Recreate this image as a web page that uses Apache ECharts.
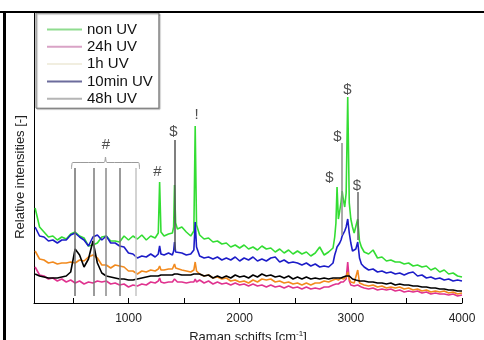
<!DOCTYPE html>
<html>
<head>
<meta charset="utf-8">
<script src="https://cdn.jsdelivr.net/npm/echarts@6/dist/echarts.min.js"></script>
<style>
  html, body { margin: 0; padding: 0; background: #fff; }
  #main { position: absolute; left: 0; top: 0; width: 484px; height: 340px; }
  .frame-top { position: absolute; left: 0; top: 11px; width: 484px; height: 2px; background: #000; }
  .frame-left { position: absolute; left: 3px; top: 11px; width: 3px; height: 329px; background: #000; }
</style>
</head>
<body>
<div id="main"></div>
<div class="frame-top"></div>
<div class="frame-left"></div>
<script>
// Raman shift (cm-1), shared by all spectra
const wavenumber = [
  160, 200, 240, 280, 320, 360, 400, 440, 480, 520, 560, 600, 640, 680, 720, 760, 800, 840, 880, 920, 960, 1000, 1040, 1080, 1120, 1160, 1200, 1240,
  1268, 1280, 1292, 1320, 1360, 1395, 1406, 1414, 1424, 1440, 1480, 1520, 1560, 1588, 1600, 1612,
  1640, 1680, 1720, 1760, 1800, 1840, 1880, 1920, 1960, 2000, 2040, 2080, 2120, 2160, 2200, 2240, 2280, 2320, 2360, 2400, 2440, 2480, 2520, 2560, 2600, 2640, 2680, 2720, 2760, 2800, 2840,
  2855, 2866, 2876, 2888, 2900, 2912, 2922, 2932, 2945, 2958, 2972, 2986, 3000, 3015, 3030, 3045, 3062, 3078, 3095,
  3120, 3160, 3200, 3240, 3280, 3320, 3360, 3400, 3440, 3480, 3520, 3560, 3600, 3640, 3680, 3720, 3760, 3800, 3840, 3880, 3920, 3960, 4000
]

const nonUV = [
  95, 76, 71, 66, 67, 63, 66, 64, 69, 71, 67, 65, 57, 58, 60, 66, 67, 62, 62, 61, 67, 63, 67, 64, 68, 63, 67, 65,
  70, 121, 71, 67, 69, 70, 76, 118, 80, 74, 76, 71, 67, 72, 177, 78,
  68, 64, 65, 61, 62, 59, 60, 56, 58, 55, 58, 54, 56, 53, 57, 54, 55, 51, 54, 50, 53, 49, 52, 49, 51, 47, 50, 56, 48, 51, 55,
  66, 80, 116, 84, 92, 101, 112, 104, 96, 110, 206, 100, 84, 76, 70, 72, 84, 62, 56,
  51, 49, 53, 45, 46, 42, 43, 41, 41, 39, 40, 37, 38, 36, 37, 33, 35, 31, 33, 29, 30, 27, 26
]
const uv24h = [
  36, 28, 27, 24, 25, 22, 24, 21, 23, 20, 22, 19, 21, 20, 22, 21, 22, 19, 20, 18, 19, 16, 18, 17, 19, 18, 21, 20,
  22, 25, 21, 20, 21, 21, 22, 24, 22, 21, 21, 20, 21, 21, 24, 21,
  23, 20, 22, 19, 21, 19, 20, 18, 20, 18, 19, 17, 19, 17, 18, 16, 18, 16, 17, 15, 17, 15, 16, 14, 16, 14, 15, 14, 16, 16, 18,
  19, 19, 20, 19, 20, 21, 20, 21, 22, 24, 41, 22, 18, 19, 17, 16, 18, 16, 16,
  15, 14, 15, 13, 14, 13, 14, 12, 13, 11, 12, 11, 12, 10, 11, 9, 10, 9, 9, 8, 9, 7, 8
]
const uv1h = [
  52, 44, 43, 40, 41, 39, 40, 40, 41, 40, 43, 42, 46, 48, 45, 38, 38, 35, 38, 37, 36, 32, 32, 29, 32, 31, 33, 32,
  34, 37, 33, 33, 34, 34, 35, 39, 35, 34, 33, 32, 31, 33, 41, 32,
  29, 27, 28, 25, 26, 24, 25, 22, 23, 21, 22, 20, 23, 21, 24, 23, 24, 21, 22, 20, 21, 19, 20, 18, 20, 18, 20, 20, 22, 21, 23,
  23, 24, 24, 23, 24, 25, 25, 24, 24, 26, 31, 24, 21, 20, 20, 21, 33, 20, 19,
  18, 17, 18, 16, 17, 15, 16, 15, 16, 14, 15, 13, 14, 12, 13, 11, 12, 11, 12, 10, 11, 9, 10
]
const uv10min = [
  76, 67, 66, 62, 63, 60, 63, 63, 68, 70, 66, 63, 57, 66, 68, 63, 67, 60, 60, 57, 56, 50, 49, 45, 47, 46, 49, 46,
  49, 57, 49, 48, 50, 48, 52, 61, 51, 49, 50, 48, 49, 53, 81, 56,
  47, 45, 46, 44, 46, 43, 45, 43, 46, 42, 45, 43, 46, 42, 44, 42, 45, 46, 41, 43, 40, 41, 40, 38, 40, 37, 39, 36, 37, 36, 40,
  48, 52, 56, 55, 60, 63, 67, 66, 72, 76, 84, 70, 60, 52, 50, 54, 61, 45, 39,
  36, 33, 34, 31, 32, 30, 31, 29, 30, 28, 30, 31, 27, 28, 25, 26, 24, 25, 23, 24, 22, 23, 22
]
const uv48h = [
  29, 27, 26, 25, 25, 25, 26, 27, 31, 54, 48, 36, 44, 62, 40, 30, 27, 26, 25, 24, 24, 23, 23, 24, 25, 26, 27, 27,
  27, 29, 28, 28, 28, 28, 28, 29, 28, 29, 28, 28, 28, 29, 31, 29,
  29, 27, 28, 25, 27, 25, 27, 25, 28, 26, 27, 25, 28, 26, 29, 27, 28, 26, 27, 25, 27, 24, 26, 24, 26, 24, 25, 24, 25, 24, 25,
  25, 25, 24, 25, 25, 25, 26, 26, 27, 27, 28, 27, 26, 24, 23, 23, 22, 22, 22,
  22, 21, 21, 20, 20, 19, 20, 18, 19, 18, 18, 17, 17, 16, 16, 15, 15, 14, 14, 13, 13, 12, 12
]
const seriesNames = ['non UV', '24h UV', '1h UV', '10min UV', '48h UV']

// band markers: [wavenumber, top, bottom]
const markerLines = [
  [521, 135, 7], [688, 135, 7], [793, 135, 7], [925, 135, 7], [1069, 135, 7],
  [1414, 163, 53], [2921, 160, 68], [3062, 111, 63]
]
// marker symbols: [text, wavenumber, intensity]
const markerText = [
  ['#', 797, 158], ['#', 1261, 131], ['$', 1405, 171], ['!', 1612, 188],
  ['$', 2969, 213], ['$', 2880, 166], ['$', 2808, 125], ['$', 3055, 117]
]
// curly brace over the group of bands
const bracePts = [
  [487, 134], [490, 138], [498, 140.5], [780, 140.5], [788, 142], [793, 146],
  [798, 142], [806, 140.5], [1090, 140.5], [1097, 138], [1099, 134]
]

const lineColors = ['#33dd33', '#e0338f', '#f28a1e', '#1c1cc8', '#000000']
const legendColors = ['#8fdc8f', '#d9a3c6', '#f1eee0', '#6c6c9c', '#b5b5b5']
const markerColors = ['#6e6e6e', '#7a7a7a', '#8a8a8a', '#7a7a7a', '#c4c4c4', '#555555', '#8c8c8c', '#666666']
const font = '"Liberation Sans", Arial, sans-serif'

const chart = echarts.init(document.getElementById('main'))

const spectra = [nonUV, uv24h, uv1h, uv10min, uv48h]
const series = spectra.map((vals, i) => ({
  name: seriesNames[i],
  type: 'line',
  data: wavenumber.map((w, j) => [w, vals[j]]),
  symbol: 'none',
  lineStyle: { color: lineColors[i], width: 1.6 },
  itemStyle: { color: lineColors[i] },
  z: 2
}))
series.push({
  type: 'lines',
  coordinateSystem: 'cartesian2d',
  z: 3,
  data: markerLines.map((m, i) => ({
    coords: [[m[0], m[1]], [m[0], m[2]]],
    lineStyle: { color: markerColors[i], width: 1.5, opacity: 1 }
  }))
})
series.push({
  type: 'line',
  data: bracePts,
  symbol: 'none',
  smooth: 0.3,
  lineStyle: { color: '#9a9a9a', width: 1 },
  z: 3
})
series.push({
  type: 'scatter',
  data: markerText.map(t => ({ name: t[0], value: [t[1], t[2]] })),
  symbolSize: 1,
  itemStyle: { color: 'transparent' },
  label: {
    show: true,
    position: 'inside',
    formatter: p => p.name,
    fontSize: 15,
    color: '#222',
    fontFamily: font
  },
  z: 4
})

chart.setOption({
  animation: false,
  backgroundColor: '#fff',
  grid: { left: 34, right: 22, top: 13, bottom: 37, outerBoundsMode: 'none', containLabel: false },
  legend: {
    data: seriesNames.map((n, i) => ({
      name: n,
      itemStyle: { color: legendColors[i], opacity: 0 },
      lineStyle: { color: legendColors[i], width: 2, opacity: 1 }
    })),
    orient: 'vertical',
    left: 36,
    top: 13,
    itemWidth: 35,
    itemHeight: 14,
    itemGap: 2.3,
    padding: [9, 6, 2, 10],
    backgroundColor: '#fff',
    borderColor: '#777',
    borderWidth: 1,
    shadowColor: 'rgba(0,0,0,0.35)',
    shadowOffsetX: 1,
    shadowOffsetY: 1,
    shadowBlur: 1,
    selectedMode: false,
    textStyle: { fontSize: 15, color: '#111', fontFamily: font }
  },
  xAxis: {
    type: 'value',
    min: 150,
    max: 4000,
    splitNumber: 8,
    minInterval: 500,
    maxInterval: 500,
    name: 'Raman schifts [cm{sup|-1}]',
    nameLocation: 'middle',
    nameGap: 26,
    nameTextStyle: {
      fontSize: 13,
      color: '#222',
      fontFamily: font,
      rich: { sup: { fontSize: 8, color: '#222', fontFamily: font, padding: [0, 0, 8, 0] } }
    },
    axisLine: { lineStyle: { color: '#000', width: 1 } },
    axisTick: { inside: true, length: 5, lineStyle: { color: '#000' } },
    axisLabel: {
      fontSize: 12,
      color: '#222',
      fontFamily: font,
      margin: 10,
      showMinLabel: false,
      formatter: v => (v % 1000 === 0 ? String(v) : '')
    },
    splitLine: { show: false }
  },
  yAxis: {
    type: 'value',
    min: 0,
    max: 290,
    name: 'Relative intensities [-]',
    nameLocation: 'middle',
    nameGap: 7,
    nameTextStyle: { fontSize: 13, color: '#222', fontFamily: font, padding: [0, 38, 0, 0] },
    axisLine: { show: true, lineStyle: { color: '#000', width: 1 } },
    axisTick: { show: false },
    axisLabel: { show: false },
    splitLine: { show: false }
  },
  series: series
})
</script>
</body>
</html>
